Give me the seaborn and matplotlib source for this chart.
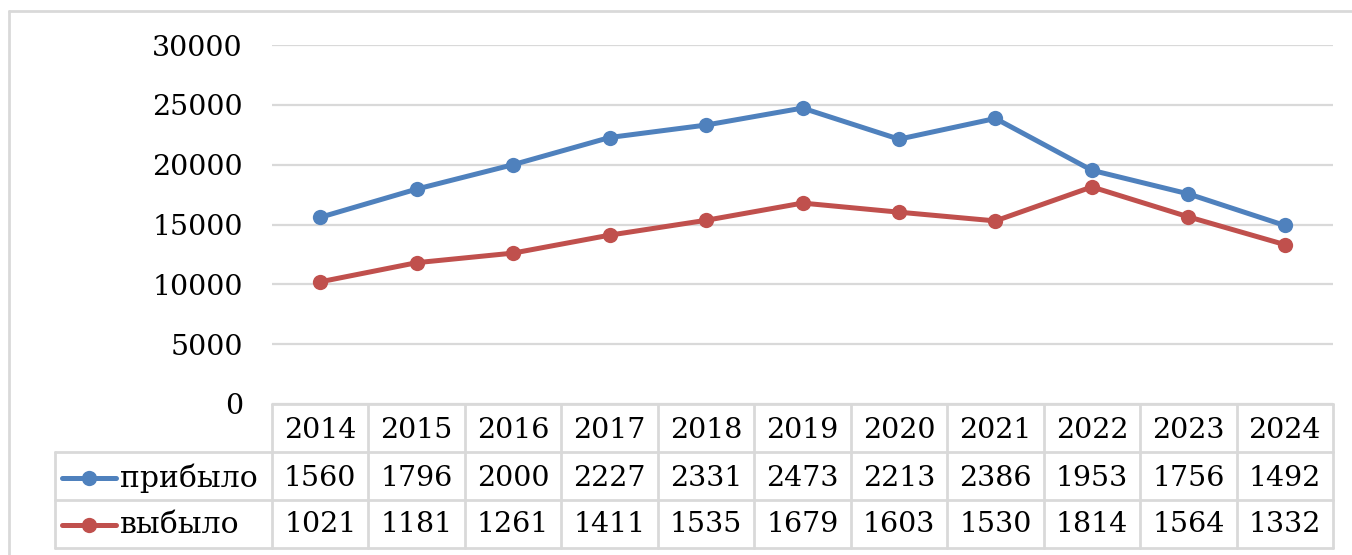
import pandas as pd
import seaborn as sns
import matplotlib.pyplot as plt
from matplotlib.lines import Line2D

# === Data ===
years = [2014, 2015, 2016, 2017, 2018, 2019, 2020, 2021, 2022, 2023, 2024]
arrived = [15600, 17960, 20000, 22270, 23310, 24730, 22130, 23860, 19530, 17560, 14920]
left = [10210, 11810, 12610, 14110, 15350, 16790, 16030, 15300, 18140, 15640, 13320]
series_names = ['прибыло', 'выбыло']
colors = ['#4F81BD', '#C0504D']
yticks = [0, 5000, 10000, 15000, 20000, 25000, 30000]

df = pd.DataFrame({'year': years, 'прибыло': arrived, 'выбыло': left})
df['pos'] = range(len(years))
long = df.melt(id_vars=['year', 'pos'], value_vars=series_names,
               var_name='series', value_name='value')

sns.set_style('white')
plt.rcParams['font.family'] = ['DejaVu Serif']
plt.rcParams['text.color'] = 'black'
plt.rcParams['ytick.color'] = 'black'

W, H = 1352, 555
fig = plt.figure(figsize=(W / 100, H / 100), dpi=100)

def fx(px):
    return px / W

def fy(py):
    return 1 - py / H

grid_c = '#D9D9D9'
fs = 20.5
lw = 3.6
ms = 11

# outer chart border (only top and left visible)
fig.add_artist(Line2D([fx(9), 1.0], [fy(11)] * 2, transform=fig.transFigure,
                      color=grid_c, lw=2))
fig.add_artist(Line2D([fx(9)] * 2, [0, fy(11)], transform=fig.transFigure,
                      color=grid_c, lw=2))

# === Plot area ===
x0, x1, ytop, ybot = 272, 1333, 45, 404
ax = fig.add_axes([fx(x0), fy(ybot), fx(x1 - x0), fy(ytop) - fy(ybot)])
sns.lineplot(data=long, x='pos', y='value', hue='series', palette=colors,
             hue_order=series_names, marker='o', markersize=ms, linewidth=lw,
             markeredgewidth=0, legend=False, ax=ax)
ax.set_xlim(-0.5, len(years) - 0.5)
ax.set_ylim(0, 30000)
ax.set_yticks(yticks)
ax.set_yticklabels([str(t) for t in yticks], fontsize=fs, color='black')
ax.tick_params(axis='y', length=0, pad=21)
ax.set_xticks([])
ax.set_xlabel('')
ax.set_ylabel('')
ax.grid(axis='y', color=grid_c, lw=1.6)
for s in ax.spines.values():
    s.set_visible(False)

# === Data table ===
col_w = (x1 - x0) / len(years)
rows_y = [404, 452, 500, 548]
lkw = dict(transform=fig.transFigure, color=grid_c, lw=2)
fig.add_artist(Line2D([fx(x0), fx(x1)], [fy(rows_y[0])] * 2, **lkw))
for ry in rows_y[1:]:
    fig.add_artist(Line2D([fx(55), fx(x1)], [fy(ry)] * 2, **lkw))
for i in range(len(years) + 1):
    xx = x0 + i * col_w
    fig.add_artist(Line2D([fx(xx)] * 2, [fy(rows_y[0]), fy(rows_y[3])], **lkw))
fig.add_artist(Line2D([fx(55)] * 2, [fy(rows_y[1]), fy(rows_y[3])], **lkw))

tkw = dict(transform=fig.transFigure, fontsize=fs, ha='center', va='center',
           color='black')
for i, yr in enumerate(years):
    cx = fx(x0 + (i + 0.5) * col_w)
    fig.text(cx, fy(430), str(yr), **tkw)
    fig.text(cx, fy(478), str(arrived[i] // 10), **tkw)
    fig.text(cx, fy(525), str(left[i] // 10), **tkw)

for name, c, ry in zip(series_names, colors, [478, 525]):
    fig.add_artist(Line2D([fx(62), fx(116)], [fy(ry)] * 2, color=c, lw=lw,
                          transform=fig.transFigure))
    fig.add_artist(Line2D([fx(89)], [fy(ry)], color=c, marker='o',
                          markersize=ms, markeredgewidth=0,
                          transform=fig.transFigure))
    fig.text(fx(120), fy(ry), name, transform=fig.transFigure, fontsize=fs + 1,
             ha='left', va='center', color='black')

fig.savefig('out.png', dpi=100)
